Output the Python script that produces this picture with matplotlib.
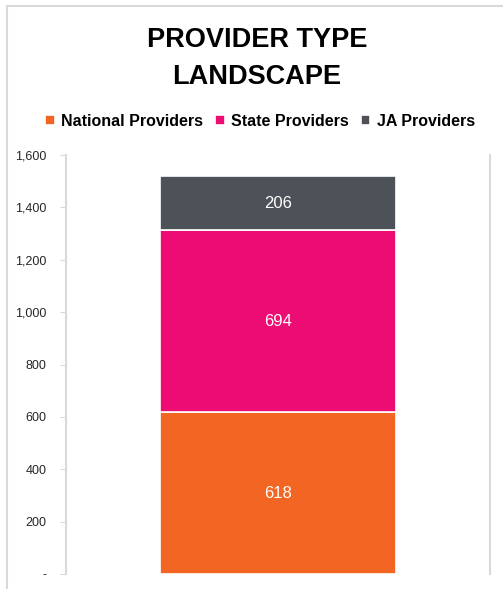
import matplotlib.pyplot as plt
from matplotlib.patches import Rectangle

categories = ['National Providers', 'State Providers', 'JA Providers']
values = [618, 694, 206]
colors = ['#F26522', '#EC0C73', '#4D5259']
yticks = [0, 200, 400, 600, 800, 1000, 1200, 1400, 1600]
ytick_labels = ['-', '200', '400', '600', '800', '1,000', '1,200', '1,400', '1,600']
title_lines = ['PROVIDER TYPE', 'LANDSCAPE']

plt.rcParams['font.family'] = ['Liberation Sans', 'DejaVu Sans']

fig = plt.figure(figsize=(5.03, 5.89), dpi=100)
ax = fig.add_axes([66/503, 1-574/589, 424/503, 419/589])

# outer chart frame (light grey)
fig.patches.append(Rectangle((7/503, -0.1), 1.2, 1 - 6/589 + 0.1, transform=fig.transFigure,
                             fill=False, edgecolor='#D9D9D9', linewidth=1.5))

bottom = 0
for cat, v, c in zip(categories, values, colors):
    ax.bar(0, v, bottom=bottom, width=0.557, color=c, edgecolor='white', linewidth=1.2, label=cat)
    ax.text(0, bottom + v / 2, str(v), ha='center', va='center', color='white', fontsize=12)
    bottom += v

ax.set_xlim(-0.5, 0.5)
ax.set_ylim(0, 1600)
ax.set_yticks(yticks)
ax.set_yticklabels(ytick_labels, fontsize=9, color='#262626')
ax.set_xticks([])
for s in ['top', 'bottom']:
    ax.spines[s].set_visible(False)
for s in ['left', 'right']:
    ax.spines[s].set_color('#D9D9D9')
    ax.spines[s].set_linewidth(1.5)
ax.tick_params(axis='y', length=4, color='#D9D9D9', pad=10)

# title, two lines, baselines placed separately
for line, base in zip(title_lines, [47, 84]):
    fig.text(257/503, 1-base/589, line, ha='center', va='baseline',
             fontsize=19.5, fontweight='bold')

handles, labels = ax.get_legend_handles_labels()
fig.legend(handles, labels, loc='center', bbox_to_anchor=(260/503, 1-121/589), ncol=3,
           frameon=False, handlelength=0.6, handleheight=0.6, handletextpad=0.4,
           columnspacing=0.75, prop={'weight': 'bold', 'size': 11.5})

fig.savefig('out.png', dpi=100)
